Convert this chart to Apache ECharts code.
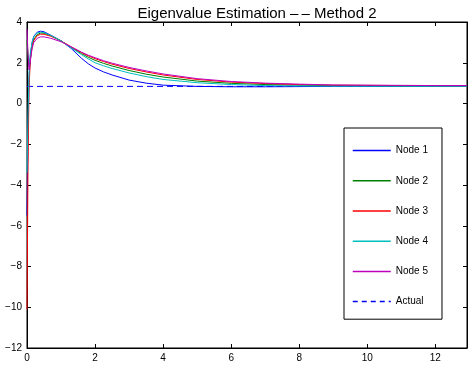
<!DOCTYPE html>
<html><head><meta charset="utf-8">
<script src="https://cdn.jsdelivr.net/npm/echarts@6/dist/echarts.min.js"></script>
<style>html,body{margin:0;padding:0;background:#fff}#c{width:468px;height:369px}</style>
</head><body><div id="c"></div>
<script>
var times = [0, 0.03, 0.06, 0.1, 0.15, 0.2, 0.3, 0.4, 0.5, 0.7, 1.0, 1.3, 1.6, 1.8, 2.0, 2.25, 2.5, 3.0, 3.5, 4.0, 5.0, 6.0, 7.0, 8.0, 9.0, 10.0, 11.0, 12.0, 12.93];
var node1 = [-5.5, -1.5, 1.2, 2.4, 3.0, 3.3, 3.5, 3.55, 3.52, 3.35, 3.08, 2.7, 2.22, 1.95, 1.74, 1.55, 1.4, 1.15, 1.0, 0.9, 0.84, 0.82, 0.82, 0.83, 0.84, 0.84, 0.84, 0.84, 0.84];
var node2 = [3.1, 2.4, 1.8, 2.2, 2.8, 3.15, 3.38, 3.46, 3.45, 3.33, 3.07, 2.75, 2.45, 2.27, 2.12, 1.97, 1.84, 1.62, 1.44, 1.3, 1.1, 0.99, 0.93, 0.9, 0.88, 0.87, 0.86, 0.86, 0.86];
var node3 = [-10.1, -3, 0.8, 2.2, 2.8, 3.1, 3.33, 3.4, 3.4, 3.3, 3.07, 2.78, 2.5, 2.34, 2.2, 2.06, 1.93, 1.72, 1.55, 1.4, 1.18, 1.05, 0.98, 0.93, 0.9, 0.89, 0.88, 0.88, 0.87];
var node4 = [-3.4, -0.5, 1.5, 2.5, 3.0, 3.28, 3.46, 3.5, 3.48, 3.34, 3.07, 2.73, 2.4, 2.19, 2.0, 1.85, 1.72, 1.5, 1.32, 1.18, 1.02, 0.93, 0.88, 0.86, 0.85, 0.85, 0.85, 0.85, 0.85];
var node5 = [3.65, 2.4, 1.65, 2.1, 2.7, 3.0, 3.2, 3.27, 3.27, 3.2, 3.03, 2.78, 2.52, 2.37, 2.25, 2.1, 1.98, 1.77, 1.6, 1.45, 1.22, 1.08, 1.0, 0.95, 0.91, 0.9, 0.89, 0.88, 0.88];
var actualT = [0, 12.93];
var actualV = [0.84, 0.84];
var names = ['Node 1', 'Node 2', 'Node 3', 'Node 4', 'Node 5'];
var colors = ['#0000ff', '#008000', '#ff0000', '#00bfbf', '#bf00bf'];
var nodes = [node1, node2, node3, node4, node5];

function pairs(xs, ys) { return xs.map(function (x, i) { return [x, ys[i]]; }); }

var font = 'Liberation Sans, Arial, Helvetica, sans-serif';
var tickCommon = { show: true, inside: true, length: 4, lineStyle: { color: '#000', width: 1 } };
var series = nodes.map(function (d, i) {
  return { name: names[i], type: 'line', data: pairs(times, d), showSymbol: false, symbol: 'none',
    lineStyle: { color: colors[i], width: 1 }, itemStyle: { color: colors[i] }, z: 3 };
});
series.push({ name: 'Actual', type: 'line', data: pairs(actualT, actualV), showSymbol: false, symbol: 'none',
  lineStyle: { color: '#0000ff', width: 1, type: [6, 4] }, itemStyle: { color: '#0000ff' }, z: 2 });

var legendData = names.map(function (n, i) {
  return { name: n, lineStyle: { color: colors[i], width: 1.5 } };
});
legendData.push({ name: 'Actual', lineStyle: { color: '#0000ff', width: 1.5, type: [5, 4] } });

var axisLineCommon = { show: true, onZero: false, lineStyle: { color: '#000' } };
var chart = echarts.init(document.getElementById('c'));
chart.setOption({
  animation: false,
  backgroundColor: '#fff',
  textStyle: { fontFamily: font },
  title: { text: 'Eigenvalue Estimation \u2013\u2009\u2013 Method 2', left: 252, top: 1, textAlign: 'center',
    textStyle: { fontFamily: font, fontSize: 15, fontWeight: 'normal', color: '#000' } },
  grid: { left: 27, top: 22, right: 1, bottom: 21, show: true, borderColor: '#000', borderWidth: 1, backgroundColor: 'transparent' },
  legend: {
    orient: 'vertical', left: 344, top: 128, width: 94,
    padding: [17, 14, 12, 8], itemGap: 19, itemWidth: 38, itemHeight: 14,
    backgroundColor: '#fff', borderColor: '#000', borderWidth: 1,
    itemStyle: { opacity: 0 },
    textStyle: { fontFamily: font, fontSize: 10, color: '#000' },
    data: legendData
  },
  xAxis: [
    { type: 'value', min: 0, max: 12.93, interval: 2, position: 'bottom',
      axisLine: axisLineCommon, axisTick: tickCommon,
      splitLine: { show: false }, axisLabel: { showMaxLabel: false, color: '#000', fontSize: 10, fontFamily: font, margin: 5 } },
    { type: 'value', min: 0, max: 12.93, interval: 2, position: 'top',
      axisLine: axisLineCommon, axisTick: tickCommon,
      splitLine: { show: false }, axisLabel: { show: false } }
  ],
  yAxis: [
    { type: 'value', min: -12, max: 4, interval: 2, position: 'left',
      axisLine: axisLineCommon, axisTick: tickCommon,
      splitLine: { show: false }, axisLabel: { color: '#000', fontSize: 10, fontFamily: font, margin: 5,
        formatter: function (v) { return String(v).replace('-', '\u2212'); } } },
    { type: 'value', min: -12, max: 4, interval: 2, position: 'right',
      axisLine: axisLineCommon, axisTick: tickCommon,
      splitLine: { show: false }, axisLabel: { show: false } }
  ],
  series: series
});
</script>
</body></html>
